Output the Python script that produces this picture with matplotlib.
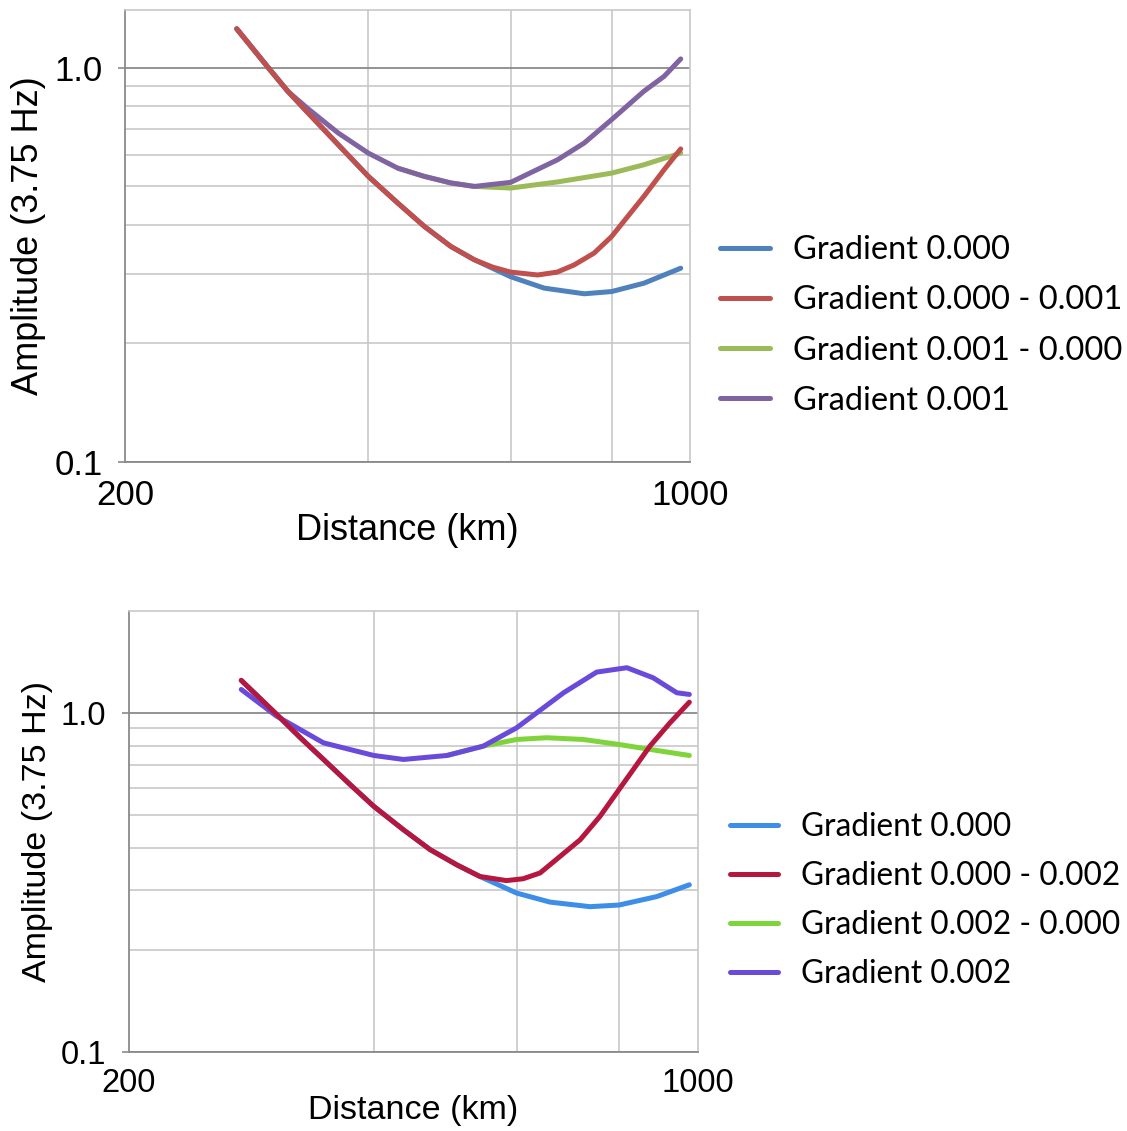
import matplotlib
matplotlib.use("Agg")
import matplotlib.pyplot as plt
from matplotlib.ticker import FixedLocator, NullFormatter, FixedFormatter

# ---- top panel: gradients 0.000 / 0.001 ----
top_blue_x = [275, 301, 318, 337, 367, 400, 435, 469, 506, 541, 600, 660, 740, 800, 877, 974]
top_blue_y = [1.254, 0.998, 0.871, 0.767, 0.638, 0.530, 0.4535, 0.396, 0.352, 0.3257, 0.295,
              0.276, 0.267, 0.2705, 0.284, 0.310]

top_red_x = [275, 301, 318, 337, 367, 400, 435, 469, 506, 541, 570, 600, 648, 685, 719, 761, 800,
             877, 929, 974]
top_red_y = [1.254, 0.998, 0.871, 0.767, 0.638, 0.530, 0.4535, 0.396, 0.352, 0.3257, 0.312,
             0.303, 0.298, 0.303, 0.316, 0.3386, 0.373, 0.4715, 0.551, 0.622]

top_green_x = [435, 469, 506, 541, 600, 686, 800, 877, 974]
top_green_y = [0.556, 0.530, 0.510, 0.4997, 0.495, 0.513, 0.540, 0.567, 0.607]

top_purple_x = [275, 301, 318, 337, 367, 400, 435, 469, 506, 541, 600, 686, 740, 800, 877, 929, 974]
top_purple_y = [1.254, 0.998, 0.871, 0.786, 0.683, 0.607, 0.556, 0.530, 0.510, 0.4997, 0.5117,
                0.584, 0.644, 0.738, 0.871, 0.950, 1.052]

top_labels = ["Gradient 0.000", "Gradient 0.000 - 0.001",
              "Gradient 0.001 - 0.000", "Gradient 0.001"]

# ---- bottom panel: gradients 0.000 / 0.002 ----
bot_blue_x = [275, 304, 325, 347, 374, 400, 435, 469, 506, 540, 599, 658, 737, 800, 890, 976]
bot_blue_y = [1.248, 0.990, 0.845, 0.729, 0.615, 0.530, 0.452, 0.395, 0.356, 0.329, 0.294,
              0.2765, 0.268, 0.271, 0.287, 0.311]

bot_red_x = [275, 304, 325, 347, 374, 400, 435, 469, 506, 540, 582, 610, 640, 717, 758, 800, 873,
             924, 976]
bot_red_y = [1.248, 0.990, 0.845, 0.729, 0.615, 0.530, 0.452, 0.395, 0.356, 0.329, 0.320,
             0.324, 0.337, 0.4226, 0.495, 0.594, 0.798, 0.935, 1.076]

bot_green_x = [492, 545, 599, 652, 723, 800, 890, 976]
bot_green_y = [0.749, 0.798, 0.835, 0.845, 0.835, 0.807, 0.775, 0.749]

bot_purple_x = [275, 304, 347, 400, 435, 492, 545, 599, 684, 751, 818, 881, 942, 976]
bot_purple_y = [1.173, 0.978, 0.816, 0.749, 0.729, 0.749, 0.798, 0.904, 1.147, 1.32, 1.36,
                1.27, 1.147, 1.134]

bot_labels = ["Gradient 0.000", "Gradient 0.000 - 0.002",
              "Gradient 0.002 - 0.000", "Gradient 0.002"]

top_colors = ["#4F81BD", "#C0504D", "#9BBB59", "#8064A2"]
bot_colors = ["#3D8EE8", "#B5173F", "#7ED43A", "#6A4ADB"]

label_font = "Liberation Sans"
legend_font = "Lato"


def style_axes(ax, ytop, fsize, xpad):
    ax.set_xscale("log")
    ax.set_yscale("log")
    ax.set_xlim(200, 1000)
    ax.set_ylim(0.1, ytop)

    ax.xaxis.set_major_locator(FixedLocator([200, 1000]))
    ax.xaxis.set_major_formatter(FixedFormatter(["200", "1000"]))
    ax.xaxis.set_minor_locator(FixedLocator([400, 600, 800]))
    ax.xaxis.set_minor_formatter(NullFormatter())
    ax.yaxis.set_major_locator(FixedLocator([0.1, 1.0]))
    ax.yaxis.set_major_formatter(FixedFormatter(["0.1", "1.0"]))
    ax.yaxis.set_minor_locator(FixedLocator([0.2, 0.3, 0.4, 0.5, 0.6, 0.7, 0.8, 0.9]))
    ax.yaxis.set_minor_formatter(NullFormatter())

    ax.grid(True, which="minor", color="#c8c8c8", linewidth=1.2)
    ax.grid(True, which="major", axis="y", color="#8a8a8a", linewidth=1.3)
    ax.set_axisbelow(True)

    ax.tick_params(axis="y", which="major", length=5, width=1.2, color="#8a8a8a",
                   pad=11, labelsize=fsize - 1)
    ax.tick_params(axis="x", which="major", length=0, pad=12, labelsize=fsize - 1)
    ax.tick_params(which="minor", length=0)
    for lab in ax.get_xticklabels() + ax.get_yticklabels():
        lab.set_fontfamily(label_font)

    for side in ["left", "bottom"]:
        ax.spines[side].set_color("#8a8a8a")
        ax.spines[side].set_linewidth(1.3)
    for side in ["top", "right"]:
        ax.spines[side].set_color("#c8c8c8")
        ax.spines[side].set_linewidth(1.2)

    ax.set_xlabel("Distance (km)", fontsize=fsize, family=label_font, labelpad=xpad)
    ax.set_ylabel("Amplitude (3.75 Hz)", fontsize=fsize, family=label_font, labelpad=6)


def draw_panel(ax, series, colors, labels, ytop, fsize, xpad, legend_xy, spacing, lsize):
    style_axes(ax, ytop, fsize, xpad)
    lines = {}
    # draw order so that shared segments show the right colour
    for idx in [2, 3, 0, 1]:
        xs, ys = series[idx]
        ln, = ax.plot(xs, ys, color=colors[idx], linewidth=3.6,
                      solid_capstyle="round", solid_joinstyle="round")
        lines[idx] = ln
    ax.legend([lines[i] for i in range(4)], labels, loc="center left",
              bbox_to_anchor=legend_xy, bbox_transform=ax.figure.transFigure,
              frameon=False, borderpad=0, borderaxespad=0,
              handlelength=1.53, handletextpad=0.7, labelspacing=spacing,
              prop={"family": legend_font, "size": lsize})


fig = plt.figure(figsize=(11.27, 11.31), dpi=100)
ax_top = fig.add_axes([0.1109, 0.5915, 0.5013, 0.3997])
ax_bot = fig.add_axes([0.1141, 0.0701, 0.5052, 0.3897])

draw_panel(ax_top,
           [(top_blue_x, top_blue_y), (top_red_x, top_red_y),
            (top_green_x, top_green_y), (top_purple_x, top_purple_y)],
           top_colors, top_labels, 1.4, 26, 1, (0.639, 0.7122), 0.62, 23.5)

draw_panel(ax_bot,
           [(bot_blue_x, bot_blue_y), (bot_red_x, bot_red_y),
            (bot_green_x, bot_green_y), (bot_purple_x, bot_purple_y)],
           bot_colors, bot_labels, 2.0, 24.5, -3, (0.6477, 0.2034), 0.6, 22.8)

fig.savefig("out.png", dpi=100)
